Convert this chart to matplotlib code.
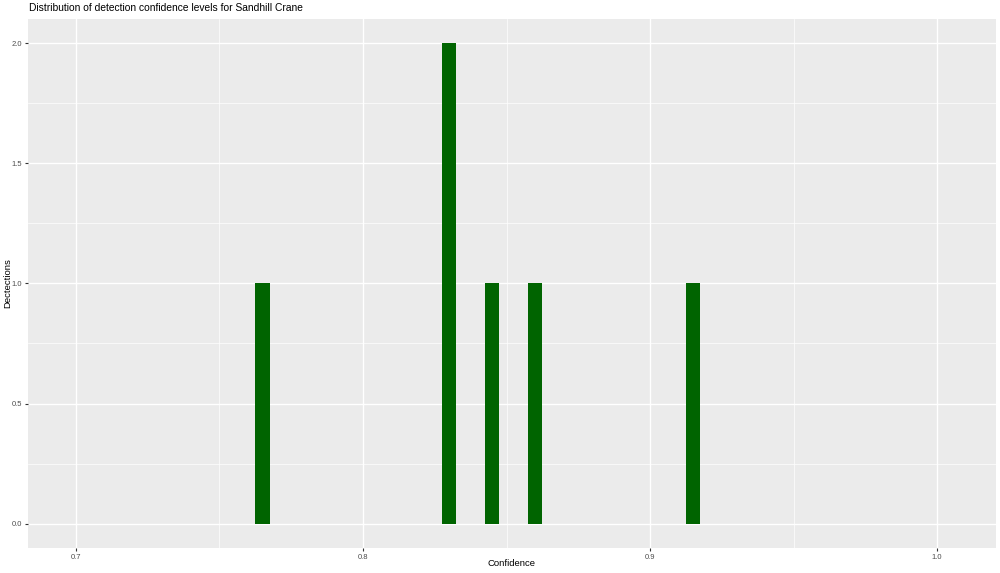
import matplotlib
matplotlib.use("Agg")
import matplotlib.pyplot as plt
from matplotlib.ticker import MultipleLocator

plt.rcParams['font.family'] = ['Liberation Sans', 'DejaVu Sans']

bin_centers = [0.765, 0.830, 0.845, 0.860, 0.915]
counts = [1, 2, 1, 1, 1]
bin_width = 0.005
x_ticks = [0.7, 0.8, 0.9, 1.0]
x_tick_labels = ["0.7", "0.8", "0.9", "1.0"]
y_ticks = [0.0, 0.5, 1.0, 1.5, 2.0]
y_tick_labels = ["0.0", "0.5", "1.0", "1.5", "2.0"]

W, H = 1000, 573
fig = plt.figure(figsize=(W / 100, H / 100), dpi=100)
left, right, top, bottom = 28.3, 996, 19, 547.7
ax = fig.add_axes([left / W, (H - bottom) / H, (right - left) / W, (bottom - top) / H])

ax.set_facecolor('#EBEBEB')
for s in ax.spines.values():
    s.set_visible(False)

ax.set_xlim(0.6834, 1.0205)
ax.set_ylim(-0.1, 2.1)
ax.set_xticks(x_ticks)
ax.set_xticklabels(x_tick_labels)
ax.set_yticks(y_ticks)
ax.set_yticklabels(y_tick_labels)
ax.xaxis.set_minor_locator(MultipleLocator(0.05))
ax.yaxis.set_minor_locator(MultipleLocator(0.25))
ax.grid(which='major', color='white', linewidth=1.0)
ax.grid(which='minor', color='white', linewidth=0.5)
ax.set_axisbelow(True)
ax.tick_params(which='major', length=2.5, width=0.8, color='#333333',
               labelsize=5.5, labelcolor='#4D4D4D', pad=2)
ax.tick_params(which='minor', length=0)

ax.bar(bin_centers, counts, width=bin_width, color='#006400', edgecolor='none')

fig.text(512 / W, 1 - 564 / H, 'Confidence', fontsize=6.8, ha='center', va='center')
fig.text(8 / W, 1 - 283 / H, 'Dectections', fontsize=6.8, ha='center', va='center',
         rotation=90)
fig.text(29 / W, 1 - 8 / H, 'Distribution of detection confidence levels for Sandhill Crane',
         fontsize=7.4, va='center', ha='left')

fig.savefig('out.png', dpi=100)
